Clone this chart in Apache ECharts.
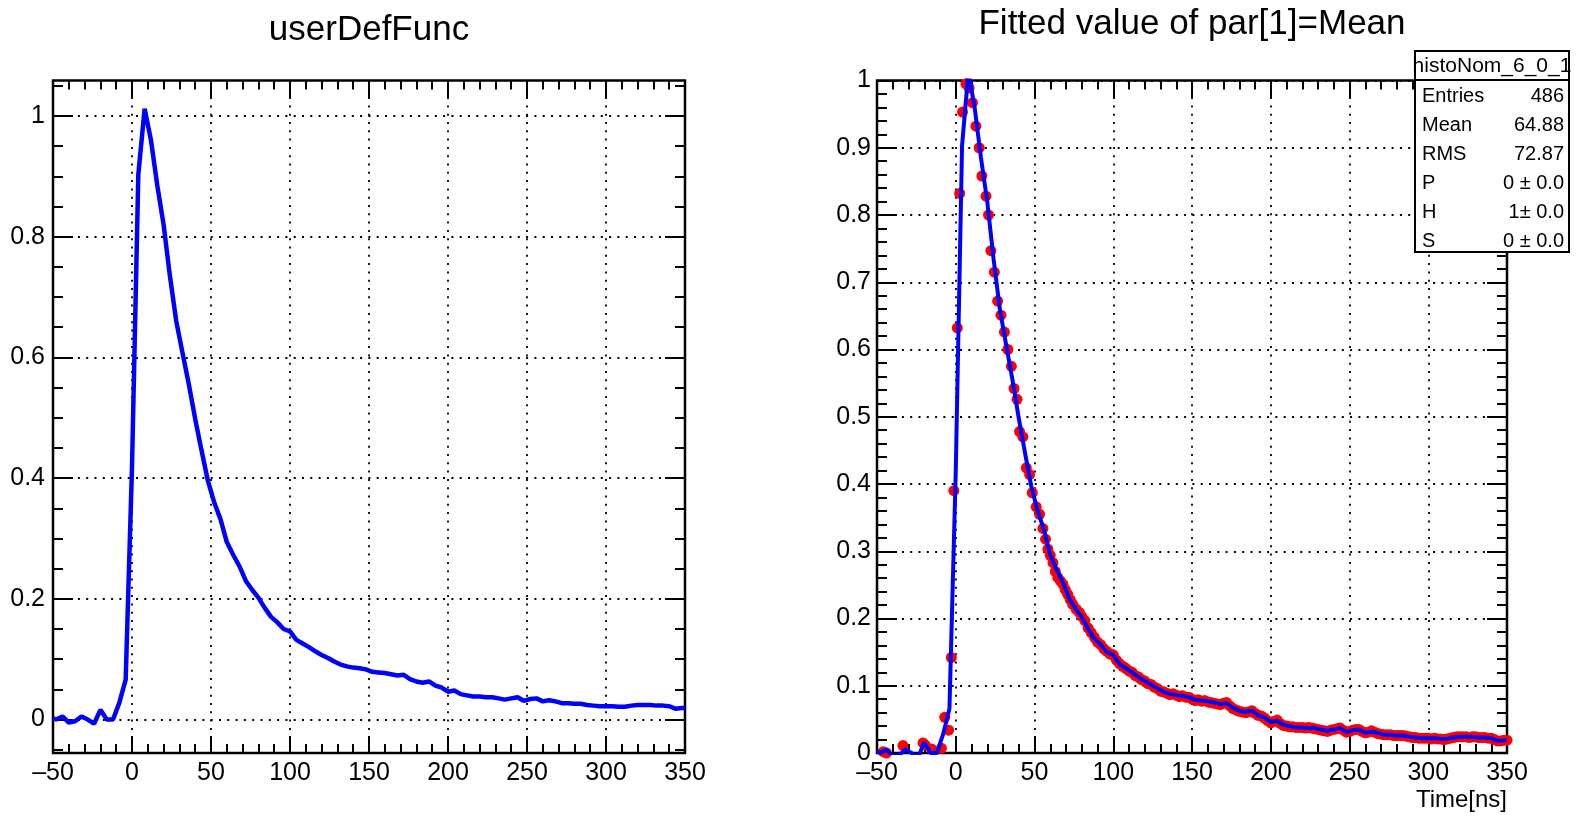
<!DOCTYPE html>
<html>
<head>
<meta charset="utf-8">
<title>userDefFunc</title>
<script src="https://cdn.jsdelivr.net/npm/echarts@6/dist/echarts.min.js"></script>
<style>
html,body{margin:0;padding:0;background:#fff;}
#main{width:1579px;height:817px;}
</style>
</head>
<body>
<div id="main"></div>
<script>
// userDefFunc curve (also drawn as the fit line on the right pad)
const funcX = [-50,-48,-44,-40,-36,-32,-28,-24,-20,-16,
    -12,-8,-4,0,4,8,12,16,20,24,
    28,32,36,40,44,48,52,56,60,64,
    68,72,76,80,84,88,92,96,100,104,
    108,112,116,120,124,128,132,136,140,144,
    148,152,156,160,164,168,172,176,180,184,
    188,192,196,200,204,208,212,216,220,224,
    228,232,236,240,244,248,252,256,260,264,
    268,272,276,280,284,288,292,296,300,304,
    308,312,316,320,324,328,332,336,340,344,
    348,350];
const funcY = [0.002,0.000,0.005,-0.005,-0.003,0.005,0.000,-0.007,0.016,0.000,
    0.000,0.028,0.066,0.418,0.903,1.012,0.960,0.885,0.820,0.735,
    0.660,0.607,0.555,0.498,0.446,0.396,0.360,0.332,0.294,0.273,
    0.254,0.230,0.215,0.202,0.185,0.170,0.161,0.150,0.146,0.132,
    0.126,0.120,0.113,0.107,0.102,0.096,0.091,0.088,0.086,0.085,
    0.083,0.079,0.078,0.077,0.075,0.073,0.074,0.067,0.063,0.061,
    0.063,0.056,0.053,0.046,0.048,0.042,0.040,0.038,0.038,0.037,
    0.037,0.035,0.033,0.035,0.037,0.031,0.034,0.035,0.030,0.032,
    0.030,0.027,0.027,0.026,0.026,0.024,0.023,0.022,0.022,0.022,
    0.021,0.021,0.023,0.024,0.024,0.024,0.023,0.023,0.022,0.018,
    0.019,0.019];

// histoNom_6_0_1 points (red)
const histX = [-46,-44,-33.5,-20.8,-19.5,-15.4,-9.1,-7,-4.5,-2.8,
    -1.2,1.0,2.5,4.3,6.5,8.5,10.6,12.8,14.9,16.6,
    19.2,20.8,22.3,24.5,26.6,28.7,30.9,33.1,35.3,37.0,
    38.9,40.5,42.6,44.8,46.9,48.6,51.1,53.2,55.3,57.0,
    58.5,60.0,61.7,63.2,64.8,66.4,68.0,69.5,71.1,72.7,
    74.3,76.4,78.5,
    80,82,84,86,88,90,92,94,96,98,
    100,102,104,106,108,110,112,114,116,118,
    120,122,124,126,128,130,132,134,136,138,
    140,142,144,146,148,150,152,154,156,158,
    160,162,164,166,168,170,172,174,176,178,
    180,182,184,186,188,190,192,194,196,198,
    200,202,204,206,208,210,212,214,216,218,
    220,222,224,226,228,230,232,234,236,238,
    240,242,244,246,248,250,252,254,256,258,
    260,262,264,266,268,270,272,274,276,278,
    280,282,284,286,288,290,292,294,296,298,
    300,302,304,306,308,310,312,314,316,318,
    320,322,324,326,328,330,332,334,336,338,
    340,342,344,346,348,350];
const histY = [0.002,0.000,0.011,0.015,0.012,0.006,0.007,0.053,0.034,0.142,
    0.390,0.632,0.832,0.953,0.995,0.989,0.967,0.932,0.900,0.858,
    0.828,0.800,0.747,0.715,0.672,0.651,0.626,0.600,0.575,0.542,
    0.526,0.478,0.470,0.424,0.414,0.387,0.366,0.355,0.334,0.318,
    0.303,0.294,0.283,0.270,0.261,0.256,0.251,0.243,0.236,0.228,
    0.221,0.214,0.209,
    0.203,0.197,0.186,0.179,0.172,0.165,0.161,0.155,0.151,0.147,
    0.146,0.138,0.133,0.129,0.126,0.122,0.120,0.115,0.113,0.109,
    0.107,0.103,0.102,0.098,0.096,0.092,0.091,0.089,0.087,0.088,
    0.086,0.084,0.085,0.083,0.083,0.080,0.078,0.079,0.077,0.078,
    0.076,0.075,0.074,0.073,0.072,0.074,0.075,0.070,0.066,0.064,
    0.062,0.061,0.060,0.061,0.063,0.059,0.056,0.055,0.052,0.048,
    0.045,0.047,0.049,0.044,0.041,0.040,0.039,0.039,0.038,0.038,
    0.038,0.037,0.038,0.037,0.036,0.035,0.034,0.033,0.032,0.034,
    0.035,0.036,0.037,0.034,0.031,0.032,0.034,0.035,0.035,0.032,
    0.030,0.031,0.033,0.031,0.029,0.028,0.027,0.027,0.027,0.026,
    0.026,0.026,0.026,0.025,0.024,0.023,0.023,0.022,0.022,0.022,
    0.022,0.021,0.022,0.021,0.021,0.020,0.021,0.022,0.023,0.024,
    0.024,0.024,0.024,0.023,0.024,0.024,0.023,0.023,0.023,0.022,
    0.022,0.020,0.018,0.018,0.019,0.019];

// tick values
const leftYMajor = [0,0.2,0.4,0.6,0.8,1];
const leftYMinor = [-0.05,0.05,0.1,0.15,0.25,0.3,0.35,0.45,0.5,0.55,0.65,0.7,0.75,0.85,0.9,0.95,1.05];

// stats box
const statNames = ['Entries','Mean','RMS','P','H','S'];
const statValues = ['486','64.88','72.87','0 \u00b1 0.0','1\u00b1 0.0','0 \u00b1 0.0'];

const FONT = "'Liberation Sans', Arial, Helvetica, sans-serif";
const LEFT_YMIN = -0.0555, LEFT_YMAX = 1.0588;

let page = {
    dotted: {color:'#000', width:1.8, type:[2,6.3]},
    xAxisOf:(grid, pos)=>{
        let bottom = pos === 'bottom';
        return {
            type:'value', gridIndex:grid, position:pos,
            min:-50, max:350, interval:50,
            axisLine:{show:false, onZero:false},
            axisTick:{show:true, inside:true, length:17, lineStyle:{color:'#000', width:2}},
            minorTick:{show:true, splitNumber:5, length:9, lineStyle:{color:'#000', width:2}},
            axisLabel:{show:bottom, margin:8, color:'#000', fontSize:25, fontFamily:FONT,
                formatter:(v)=> v < 0 ? '\u2013' + Math.abs(v) : String(v)},
            splitLine:{show:bottom, lineStyle:page.dotted}
        };
    },//xAxisOf-----end
    leftYAxis:(pos, values, len, major)=>{
        return {
            type:'value', gridIndex:0, position:pos,
            min:LEFT_YMIN, max:LEFT_YMAX,
            axisLine:{show:false, onZero:false},
            axisTick:{show:true, inside:true, length:len, customValues:values, lineStyle:{color:'#000', width:2}},
            axisLabel:{show:major && pos === 'left', customValues:values, margin:8, color:'#000', fontSize:25, fontFamily:FONT},
            splitLine:{show:major && pos === 'left', lineStyle:page.dotted}
        };
    },//leftYAxis-----end
    rightYAxis:(pos)=>{
        return {
            type:'value', gridIndex:1, position:pos,
            min:0, max:1, interval:0.1,
            axisLine:{show:false, onZero:false},
            axisTick:{show:true, inside:true, length:20, lineStyle:{color:'#000', width:2}},
            minorTick:{show:true, splitNumber:5, length:10, lineStyle:{color:'#000', width:2}},
            axisLabel:{show:pos === 'left', margin:6, color:'#000', fontSize:25, fontFamily:FONT},
            splitLine:{show:pos === 'left', lineStyle:page.dotted}
        };
    },//rightYAxis-----end
    statsGraphic:()=>{
        let items = [
            {type:'rect', z:100, shape:{x:1415, y:51, width:154, height:201},
                style:{fill:'#fff', stroke:'#000', lineWidth:2}},
            {type:'line', z:101, shape:{x1:1415, y1:80, x2:1569, y2:80},
                style:{stroke:'#000', lineWidth:2}},
            {type:'text', z:101, x:1492, y:66,
                style:{text:'histoNom_6_0_1', fill:'#000', font:'21px ' + FONT, align:'center', verticalAlign:'middle'}}
        ];
        statNames.forEach((e, i)=>{
            let y = 96 + i * 29;
            items.push({type:'text', z:101, x:1422, y:y,
                style:{text:e, fill:'#000', font:'20px ' + FONT, align:'left', verticalAlign:'middle'}});
            items.push({type:'text', z:101, x:1564, y:y,
                style:{text:statValues[i], fill:'#000', font:'20px ' + FONT, align:'right', verticalAlign:'middle'}});
        })//statNames.forEach-----end
        return items;
    },//statsGraphic-----end
    init:()=>{
        let myChart = echarts.init(document.getElementById('main'), null, {renderer:'canvas'});
        let funcData = funcX.map((x, i)=>[x, funcY[i]]);
        let histData = histX.map((x, i)=>[x, histY[i]]);

        let option = {
            animation:false,
            backgroundColor:'#fff',
            grid:[
                {left:53, top:80.5, width:632, height:672.5, show:true, borderColor:'#000', borderWidth:2.5,
                    backgroundColor:'transparent', containLabel:false, outerBoundsMode:'none'},
                {left:877, top:80.5, width:630, height:672.5, show:true, borderColor:'#000', borderWidth:2.5,
                    backgroundColor:'transparent', containLabel:false, outerBoundsMode:'none'}
            ],
            xAxis:[
                page.xAxisOf(0, 'bottom'),
                page.xAxisOf(0, 'top'),
                page.xAxisOf(1, 'bottom'),
                page.xAxisOf(1, 'top')
            ],
            yAxis:[
                page.leftYAxis('left', leftYMajor, 20, true),
                page.leftYAxis('left', leftYMinor, 10, false),
                page.leftYAxis('right', leftYMajor, 20, true),
                page.leftYAxis('right', leftYMinor, 10, false),
                page.rightYAxis('left'),
                page.rightYAxis('right')
            ],
            series:[
                {
                    name:'userDefFunc', type:'line', xAxisIndex:0, yAxisIndex:0,
                    data:funcData, showSymbol:false, symbol:'none', clip:true,
                    lineStyle:{color:'#0000ff', width:4.5}
                },
                {
                    name:'histoNom_6_0_1', type:'scatter', xAxisIndex:2, yAxisIndex:4,
                    data:histData, symbol:'circle', symbolSize:11, clip:true,
                    itemStyle:{color:'#ff0000', opacity:1}
                },
                {
                    name:'fit', type:'line', xAxisIndex:2, yAxisIndex:4,
                    data:funcData, showSymbol:false, symbol:'none', clip:true,
                    lineStyle:{color:'#0000ff', width:4}
                }
            ],
            graphic:[
                {type:'text', x:369, y:30, style:{text:'userDefFunc', fill:'#000', font:'35px ' + FONT, align:'center', verticalAlign:'middle'}},
                {type:'text', x:1192, y:24, style:{text:'Fitted value of par[1]=Mean', fill:'#000', font:'35px ' + FONT, align:'center', verticalAlign:'middle'}},
                {type:'text', x:1507, y:800, style:{text:'Time[ns]', fill:'#000', font:'24px ' + FONT, align:'right', verticalAlign:'middle'}}
            ].concat(page.statsGraphic())
        };

        myChart.setOption(option);
    }//init-----end
}

page.init();
</script>
</body>
</html>
